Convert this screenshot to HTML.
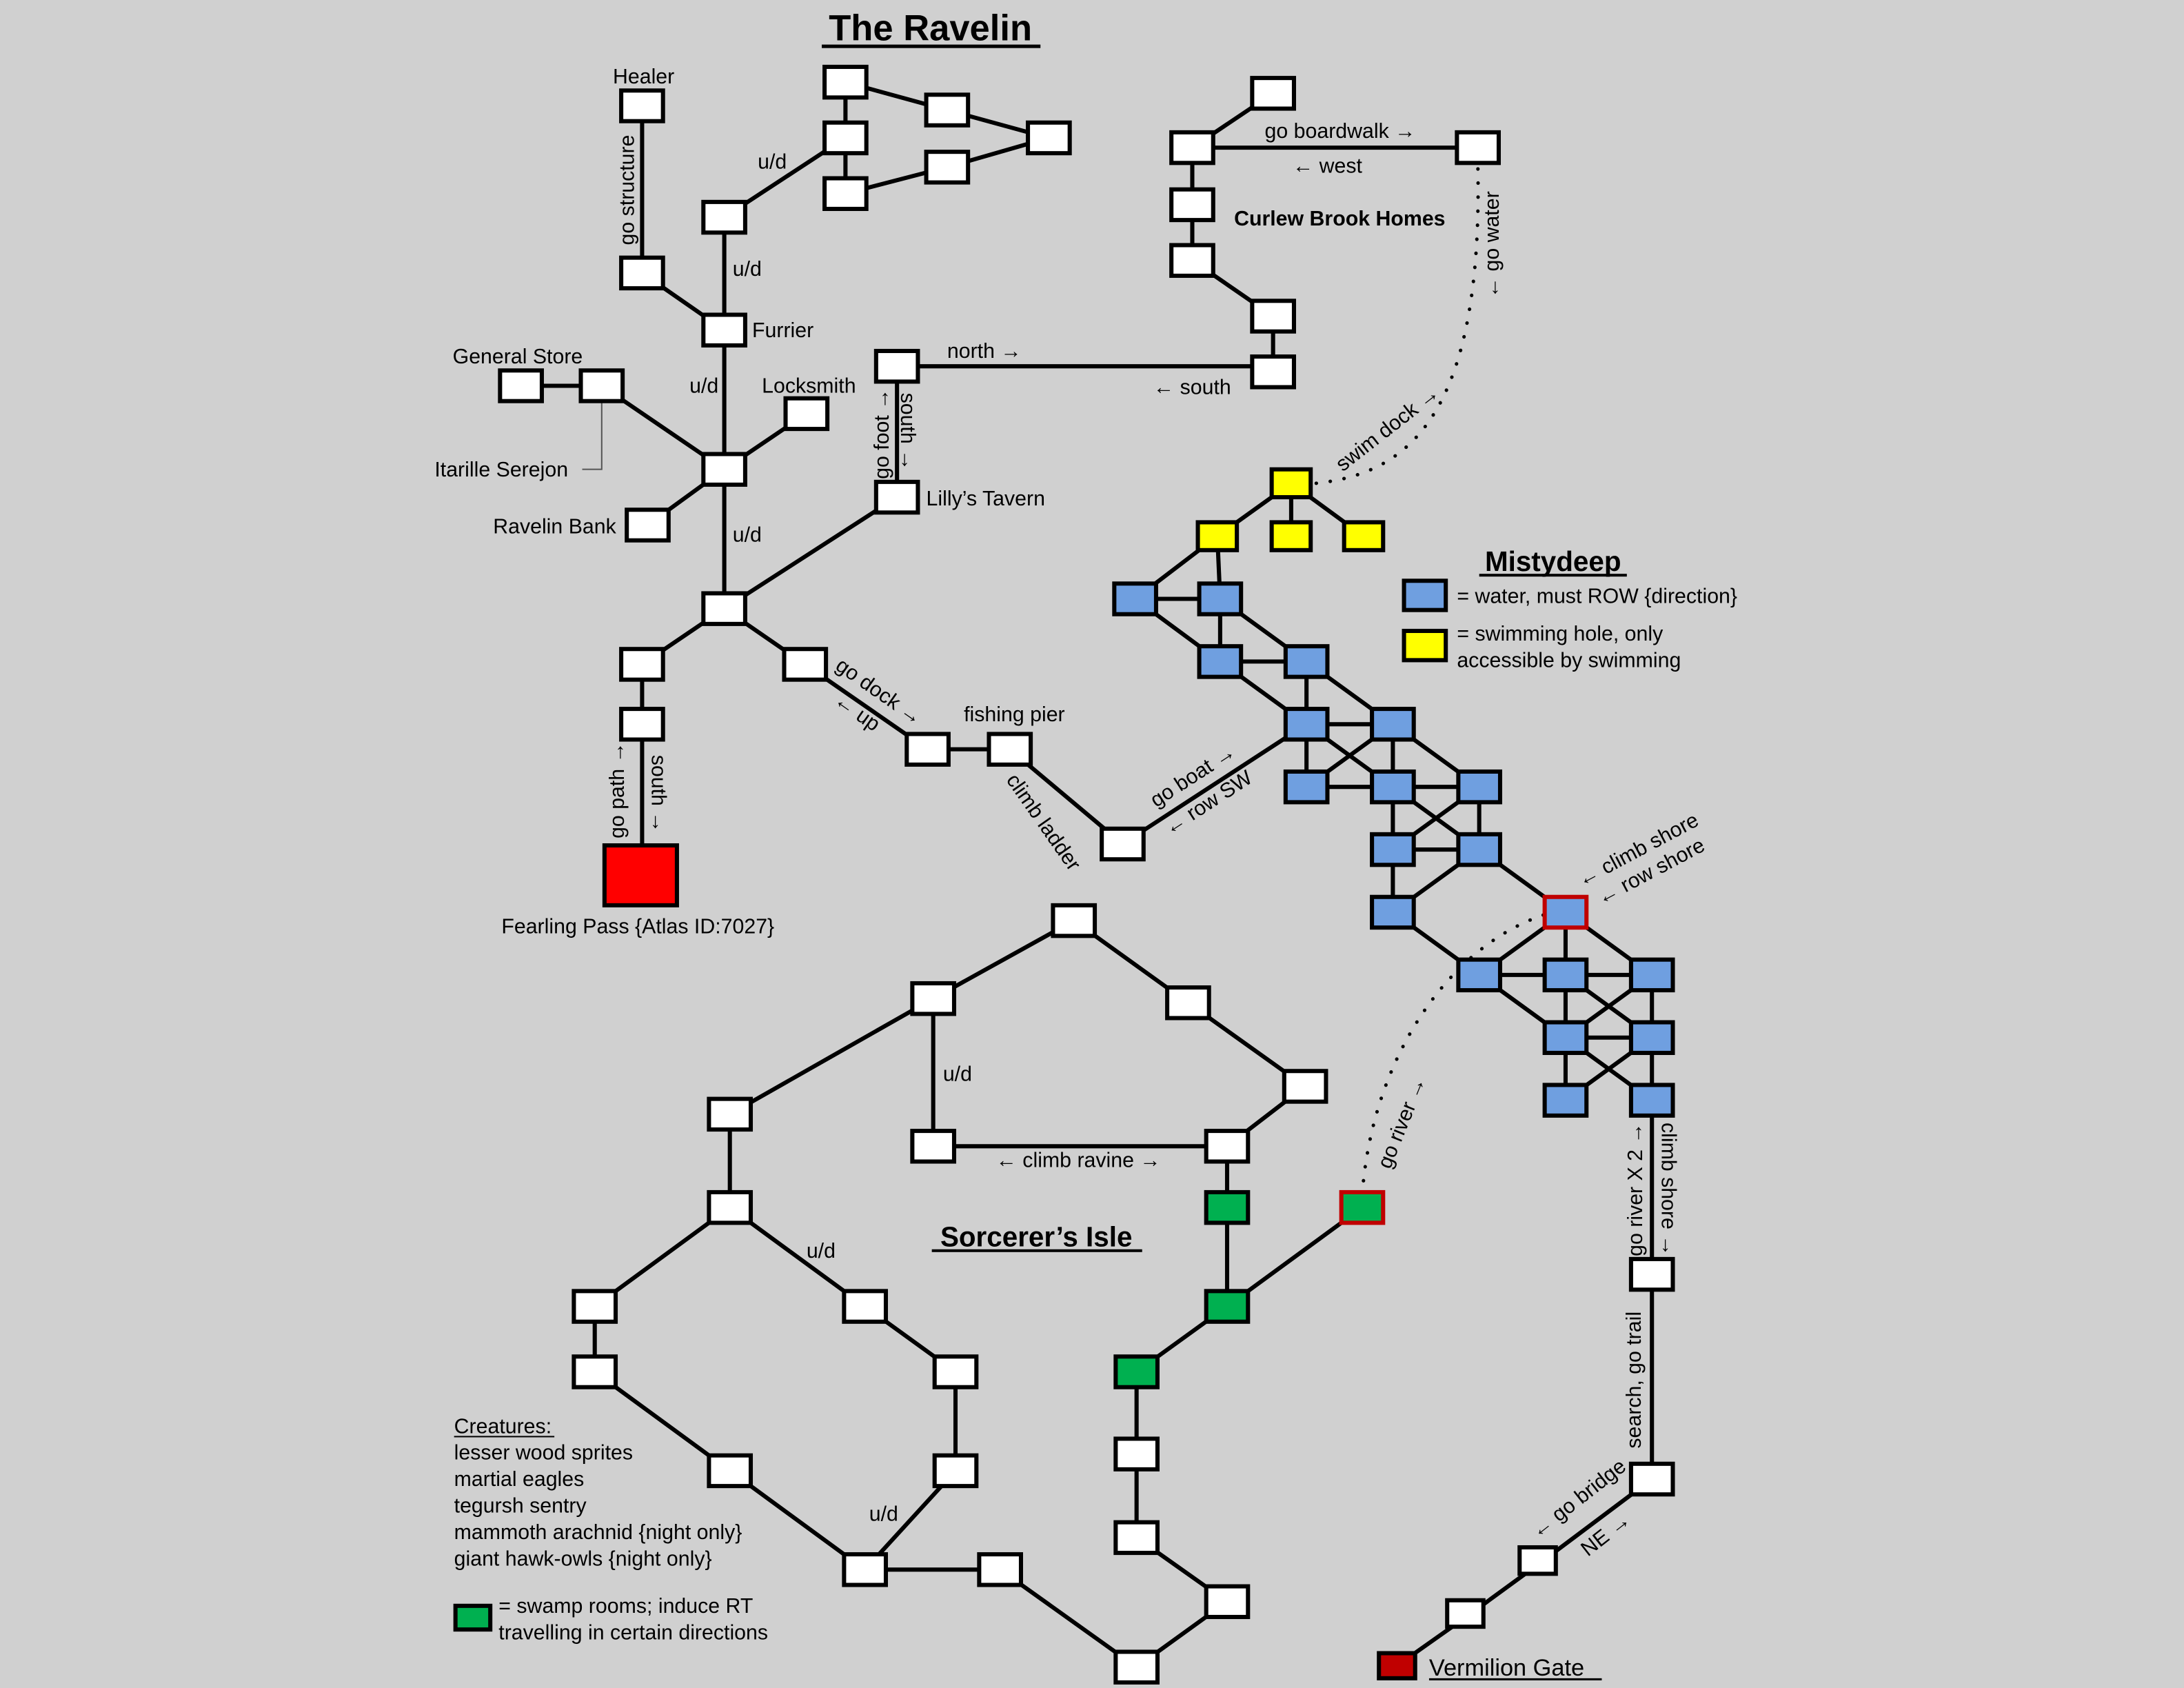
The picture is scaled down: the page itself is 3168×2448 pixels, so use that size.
<!DOCTYPE html>
<html><head><meta charset="utf-8"><style>
html,body{margin:0;padding:0;background:#d0d0d0;}
svg{display:block;}
text{font-family:"Liberation Sans",sans-serif;font-size:15px;fill:#000;}
</style></head><body>
<svg width="3168" height="2448" viewBox="0 0 1568 1212" preserveAspectRatio="none" xmlns="http://www.w3.org/2000/svg">
<rect width="1568" height="1212" fill="#d0d0d0"/>
<g stroke="#000" stroke-width="3" fill="none">
<!-- Ravelin -->
<path d="M461,76V196L520,237V156L607,99V59M607,99V139M607,59L680,79L753,99L680,120L607,139"/>
<path d="M520,237V437M374,277H432L520,337L579,297M520,337L465,377M520,437L644,357V263H914M520,437L461,477V607M520,437L578,477L666,538H725L806,606"/>
<path d="M914,67L856,106H1061M856,106V187L914,227V267"/>
<!-- Misty -->
<path d="M927,347L874,385M927,347V385M927,347L979,385M874,385L815,430M874,385L876,430"/>
<path d="M815,430H876M815,430L876,475M876,430V475M876,430L938,475M876,475H938M876,475L938,520M938,475V520M938,475L1000,520"/>
<path d="M938,520H1000M938,520V565M938,520L1000,565M1000,520L938,565M1000,520V565M1000,520L1062,565M938,565H1062"/>
<path d="M1000,565V610M1000,565L1062,610M1062,565L1000,610M1062,565V610M1000,610H1062M1000,610V655M1062,610L1000,655M1062,610L1124,655"/>
<path d="M1000,655L1062,700M1124,655L1062,700M1124,655V700M1124,655L1186,700M1062,700H1186M1062,700L1124,745M1124,700V745M1124,700L1186,745M1186,700L1124,745M1186,700V745M1124,745H1186M1124,745V790M1124,745L1186,790M1186,745L1124,790M1186,745V790"/>
<path d="M938,520L806,606"/>
<path d="M1186,790V1062L1106,1122L1054,1160L1003,1196"/>
<!-- Sorcerer -->
<path d="M670,717L771,661L853,720L937,780L881,823M670,717L524,800V867M670,717V823H881V938L978,867M881,938L816,985V1104L881,1150L816,1197L718,1127H621L524,1056L427,985V938L524,867L621,938L686,985V1056L621,1127"/>
</g>
<path d="M432,287V337H418" stroke="#555" stroke-width="1" fill="none"/>
<g stroke="#000" stroke-width="2.5" stroke-linecap="round" stroke-dasharray="0.1 10" fill="none">
<path d="M945,347C1010,340 1065,300 1061,118"/>
<path d="M1108,657C1040,680 985,760 978,858"/>
</g>
<g stroke="#000" stroke-width="3" fill="#fff">
<!-- white boxes -->
<g transform="translate(-15,-11)">
<rect x="461" y="76" width="30" height="22"/><rect x="461" y="196" width="30" height="22"/><rect x="520" y="237" width="30" height="22"/><rect x="520" y="156" width="30" height="22"/>
<rect x="607" y="59" width="30" height="22"/><rect x="607" y="99" width="30" height="22"/><rect x="607" y="139" width="30" height="22"/><rect x="680" y="79" width="30" height="22"/><rect x="680" y="120" width="30" height="22"/><rect x="753" y="99" width="30" height="22"/>
<rect x="374" y="277" width="30" height="22"/><rect x="432" y="277" width="30" height="22"/><rect x="579" y="297" width="30" height="22"/><rect x="520" y="337" width="30" height="22"/><rect x="465" y="377" width="30" height="22"/>
<rect x="644" y="357" width="30" height="22"/><rect x="644" y="263" width="30" height="22"/><rect x="520" y="437" width="30" height="22"/><rect x="461" y="477" width="30" height="22"/><rect x="461" y="520" width="30" height="22"/>
<rect x="578" y="477" width="30" height="22"/><rect x="666" y="538" width="30" height="22"/><rect x="725" y="538" width="30" height="22"/><rect x="806" y="606" width="30" height="22"/>
<rect x="914" y="67" width="30" height="22"/><rect x="856" y="106" width="30" height="22"/><rect x="1061" y="106" width="30" height="22"/><rect x="856" y="147" width="30" height="22"/><rect x="856" y="187" width="30" height="22"/><rect x="914" y="227" width="30" height="22"/><rect x="914" y="267" width="30" height="22"/>
<rect x="1186" y="915" width="30" height="22"/><rect x="1186" y="1062" width="30" height="22"/><rect x="1106" y="1122" width="26" height="19"/><rect x="1054" y="1160" width="26" height="19"/>
<rect x="771" y="661" width="30" height="22"/><rect x="670" y="717" width="30" height="22"/><rect x="853" y="720" width="30" height="22"/><rect x="937" y="780" width="30" height="22"/><rect x="524" y="800" width="30" height="22"/><rect x="670" y="823" width="30" height="22"/><rect x="881" y="823" width="30" height="22"/>
<rect x="524" y="867" width="30" height="22"/><rect x="427" y="938" width="30" height="22"/><rect x="621" y="938" width="30" height="22"/><rect x="427" y="985" width="30" height="22"/><rect x="686" y="985" width="30" height="22"/><rect x="524" y="1056" width="30" height="22"/><rect x="686" y="1056" width="30" height="22"/>
<rect x="621" y="1127" width="30" height="22"/><rect x="718" y="1127" width="30" height="22"/><rect x="816" y="1044" width="30" height="22"/><rect x="816" y="1104" width="30" height="22"/><rect x="881" y="1150" width="30" height="22"/><rect x="816" y="1197" width="30" height="22"/>
</g>
</g>
<g stroke="#000" stroke-width="3" fill="#ffff00" transform="translate(-14,-10)">
<rect x="927" y="347" width="28" height="20"/><rect x="874" y="385" width="28" height="20"/><rect x="927" y="385" width="28" height="20"/><rect x="979" y="385" width="28" height="20"/>
</g>
<g stroke="#000" stroke-width="3" fill="#6f9fe0" transform="translate(-15,-11)">
<rect x="815" y="430" width="30" height="22"/><rect x="876" y="430" width="30" height="22"/><rect x="876" y="475" width="30" height="22"/><rect x="938" y="475" width="30" height="22"/><rect x="938" y="520" width="30" height="22"/><rect x="1000" y="520" width="30" height="22"/>
<rect x="938" y="565" width="30" height="22"/><rect x="1000" y="565" width="30" height="22"/><rect x="1062" y="565" width="30" height="22"/><rect x="1000" y="610" width="30" height="22"/><rect x="1062" y="610" width="30" height="22"/><rect x="1000" y="655" width="30" height="22"/>
<rect x="1124" y="655" width="30" height="22" stroke="#c00000"/><rect x="1062" y="700" width="30" height="22"/><rect x="1124" y="700" width="30" height="22"/><rect x="1186" y="700" width="30" height="22"/><rect x="1124" y="745" width="30" height="22"/><rect x="1186" y="745" width="30" height="22"/><rect x="1124" y="790" width="30" height="22"/><rect x="1186" y="790" width="30" height="22"/>
</g>
<g stroke="#000" stroke-width="3" fill="#00b050" transform="translate(-15,-11)">
<rect x="881" y="867" width="30" height="22"/><rect x="978" y="867" width="30" height="22" stroke="#c00000"/><rect x="881" y="938" width="30" height="22"/><rect x="816" y="985" width="30" height="22"/>
</g>
<rect x="434" y="607" width="52" height="43" fill="#ff0000" stroke="#000" stroke-width="3"/>
<rect x="990" y="1187" width="26" height="18" fill="#c00000" stroke="#000" stroke-width="3"/>
<rect x="1008" y="417" width="30" height="21" fill="#6f9fe0" stroke="#000" stroke-width="3"/>
<rect x="1008" y="453" width="30" height="21" fill="#ffff00" stroke="#000" stroke-width="3"/>
<rect x="327" y="1153" width="25" height="17" fill="#00b050" stroke="#000" stroke-width="3"/>

<!-- Titles -->
<text x="668" y="29" text-anchor="middle" style="font-size:26px;font-weight:bold">The Ravelin</text>
<rect x="590" y="32" width="157" height="2.5"/>
<text x="1115" y="410" text-anchor="middle" style="font-size:20px;font-weight:bold">Mistydeep</text>
<rect x="1062" y="412" width="106" height="2"/>
<text x="744" y="895" text-anchor="middle" style="font-size:20px;font-weight:bold">Sorcerer’s Isle</text>
<rect x="669" y="897" width="151" height="2"/>
<text x="886" y="162" style="font-weight:bold">Curlew Brook Homes</text>

<!-- Labels -->
<text x="440" y="60">Healer</text>
<text x="540" y="242">Furrier</text>
<text x="325" y="261">General Store</text>
<text x="547" y="282">Locksmith</text>
<text x="312" y="342">Itarille Serejon</text>
<text x="354" y="383">Ravelin Bank</text>
<text x="665" y="363">Lilly’s Tavern</text>
<text x="360" y="670">Fearling Pass {Atlas ID:7027}</text>
<text x="692" y="518">fishing pier</text>
<text x="544" y="121">u/d</text>
<text x="526" y="198">u/d</text>
<text x="495" y="282">u/d</text>
<text x="526" y="389">u/d</text>
<text x="680" y="257">north →</text>
<text x="828" y="283">← south</text>
<text x="908" y="99">go boardwalk →</text>
<text x="928" y="124">← west</text>
<text x="1046" y="433">= water, must ROW {direction}</text>
<text x="1046" y="460">= swimming hole, only</text>
<text x="1046" y="479">accessible by swimming</text>
<text x="677" y="776">u/d</text>
<text x="715" y="838">← climb ravine →</text>
<text x="579" y="903">u/d</text>
<text x="624" y="1092">u/d</text>
<text x="326" y="1029">Creatures:</text>
<rect x="326" y="1031" width="72" height="1"/>
<text x="326" y="1048">lesser wood sprites</text>
<text x="326" y="1067">martial eagles</text>
<text x="326" y="1086">tegursh sentry</text>
<text x="326" y="1105">mammoth arachnid {night only}</text>
<text x="326" y="1124">giant hawk-owls {night only}</text>
<text x="358" y="1158">= swamp rooms; induce RT</text>
<text x="358" y="1177">travelling in certain directions</text>
<text x="1026" y="1203" style="font-size:17px">Vermilion Gate</text>
<rect x="1026" y="1205" width="124" height="1.5"/>

<!-- rotated labels -->
<text transform="translate(455,176) rotate(-90)">go structure</text>
<text transform="translate(638,344) rotate(-90)">go foot →</text>
<text transform="translate(647,282) rotate(90)">south →</text>
<text transform="translate(448,602) rotate(-90)">go path →</text>
<text transform="translate(468,542) rotate(90)">south →</text>
<text transform="translate(599,480) rotate(35)">go dock →</text>
<text transform="translate(598,505) rotate(35)">← up</text>
<text transform="translate(722,560) rotate(55)">climb ladder</text>
<text transform="translate(830,580) rotate(-33)">go boat →</text>
<text transform="translate(840,600) rotate(-33)">← row SW</text>
<text transform="translate(964,339) rotate(-38)">swim dock →</text>
<text transform="translate(1076,214) rotate(-90)">← go water</text>
<text transform="translate(1136,637) rotate(-28)">← climb shore</text>
<text transform="translate(1150,650) rotate(-28)">← row shore</text>
<text transform="translate(998,840) rotate(-68)">go river →</text>
<text transform="translate(1179,902) rotate(-90)">go river X 2 →</text>
<text transform="translate(1193,806) rotate(90)">climb shore →</text>
<text transform="translate(1178,1040) rotate(-90)">search, go trail</text>
<text transform="translate(1104,1105) rotate(-38)">← go bridge</text>
<text transform="translate(1140,1118) rotate(-38)">NE →</text>
</svg>
</body></html>
